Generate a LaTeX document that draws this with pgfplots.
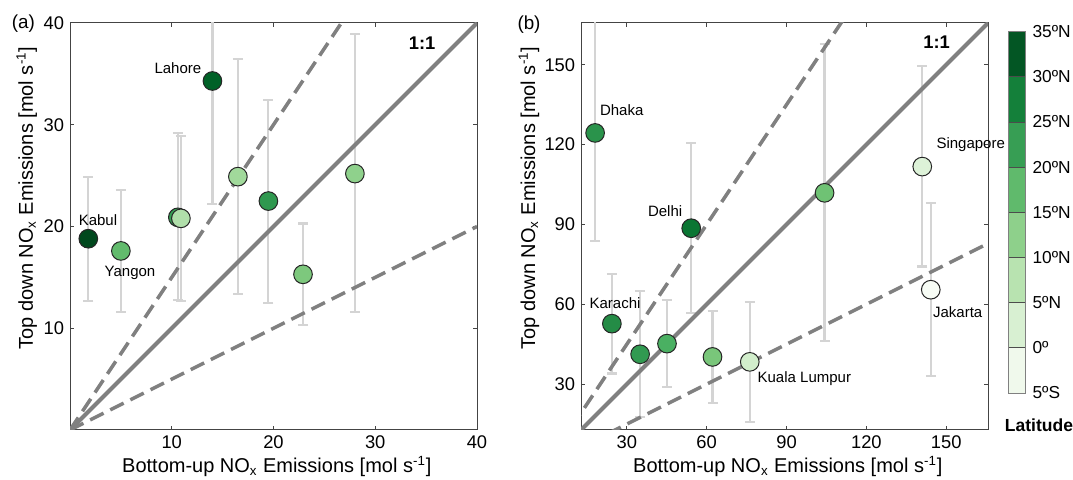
\documentclass[border=0pt]{standalone}
\usepackage{fontspec}
\setmainfont{Liberation Sans}
\usepackage{pgfplots}
\pgfplotsset{compat=1.18}
\usepackage{pgfplotstable}

\pgfplotstableread{
x y ep em lat
1.8 18.8 6.1 6.1 34.5
5.0 17.6 6.0 6.0 16.8
10.6 20.9 8.3 8.1 22
10.9 20.8 8.1 8.1 8
14.0 34.3 12 12.1 31.5
16.5 24.9 11.6 11.5 10
19.5 22.5 9.9 10.0 23
22.9 15.3 5.0 5.0 14
28.0 25.2 13.7 13.6 12
}\dataA

\pgfplotstableread{
x y ep em lat
18.1 124.4 42 40.65 23.8
24.4 52.75 18.5 18.75 24.9
35.0 41.25 23.75 23.5 22.6
45.1 45.25 16.5 16.25 19.1
54.2 88.6 31.9 31.7 28.6
62.2 40.25 17.25 17.25 14.5
76.2 38.4 22.5 22.5 3.1
104.3 101.9 55.85 55.65 15.5
141.0 111.75 37.65 37.5 1.3
144.2 65.5 32.6 32.4 -6.2
}\dataB

\definecolor{axgray}{HTML}{444444}
\definecolor{linegray}{HTML}{808080}
\definecolor{errgray}{HTML}{D4D4D4}
\definecolor{b1}{RGB}{240,249,236}
\definecolor{b2}{RGB}{216,240,210}
\definecolor{b3}{RGB}{184,227,176}
\definecolor{b4}{RGB}{142,208,139}
\definecolor{b5}{RGB}{96,186,108}
\definecolor{b6}{RGB}{55,158,84}
\definecolor{b7}{RGB}{20,128,58}
\definecolor{b8}{RGB}{3,86,36}

\tikzset{city/.style={font=\fontsize{9}{11}\selectfont}}

\pgfplotsset{
  colormap={greens}{rgb255=(247,252,245) rgb255=(229,245,224) rgb255=(199,233,192) rgb255=(161,217,155) rgb255=(116,196,118) rgb255=(65,171,93) rgb255=(35,139,69) rgb255=(0,109,44) rgb255=(0,68,27)},
  mainax/.style={
    scale only axis, width=244.2pt, height=244.2pt, anchor=south west,
    axis line style={axgray, line width=0.6pt},
    major tick style={axgray, line width=0.6pt},
    major tick length=2.4pt,
    tick align=inside,
    /pgf/number format/assume math mode=true,
    ticklabel style={font=\fontsize{11}{13}\selectfont},
    label style={font=\fontsize{12}{14}\selectfont},
    xlabel style={at={(axis description cs:0.508,-0.09)}, anchor=center},
    ylabel style={anchor=center},
    xlabel={Bottom-up NO\textsubscript{x} Emissions [mol s\textsuperscript{-1}]},
    ylabel={Top down NO\textsubscript{x} Emissions [mol s\textsuperscript{-1}]},
    point meta min=-5, point meta max=35,
    colormap name=greens,
    clip=true, clip mode=individual,
  },
  errb/.style={draw=none, mark=none, forget plot,
    error bars/.cd, y dir=both, y explicit,
    error bar style={errgray, line width=1.3pt},
    error mark options={errgray, line width=1.3pt, rotate=90, mark size=3pt}},
  pts/.style={scatter, only marks, mark=*, mark size=5.6pt, point meta=explicit,
    scatter/use mapped color={draw=black!85, fill=mapped color},
    mark options={line width=0.6pt}},
  solidl/.style={linegray, line width=2.4pt, mark=none},
  dashl/.style={linegray, line width=2.1pt, mark=none, dash pattern=on 9pt off 4.5pt},
}

\begin{document}
\begin{tikzpicture}
% panel a
\begin{axis}[mainax, at={(42pt,30pt)},
  xmin=0, xmax=40, ymin=0, ymax=40,
  xtick={10,20,30,40}, ytick={10,20,30,40},
  ylabel style={at={(axis description cs:-0.106,0.57)}},
]
\addplot[errb] table[x=x, y=y, y error plus=ep, y error minus=em] {\dataA};
\addplot[dashl] coordinates {(0,0) (40,60)};
\addplot[dashl] coordinates {(0,0) (40,20)};
\addplot[solidl] coordinates {(0,0) (40,40)};
\addplot[pts] table[x=x, y=y, meta=lat] {\dataA};
\node[city] at (axis cs:10.6,35.6) {Lahore};
\node[city] at (axis cs:2.75,20.6) {Kabul};
\node[city] at (axis cs:5.9,15.4) {Yangon};
\node[font=\bfseries\fontsize{11}{13}\selectfont] at (axis cs:34.6,38.0) {1:1};
\end{axis}
% panel b
\begin{axis}[mainax, at={(348.6pt,30pt)},
  xmin=12.8, xmax=165.7, ymin=12.8, ymax=165.7,
  xtick={30,60,...,150}, ytick={30,60,...,150},
  ylabel style={at={(axis description cs:-0.128,0.57)}},
]
\addplot[errb] table[x=x, y=y, y error plus=ep, y error minus=em] {\dataB};
\addplot[dashl] coordinates {(0,0) (170,255)};
\addplot[dashl] coordinates {(0,0) (170,85)};
\addplot[solidl] coordinates {(0,0) (170,170)};
\addplot[pts] table[x=x, y=y, meta=lat] {\dataB};
\node[city] at (axis cs:28.1,132.8) {Dhaka};
\node[city] at (axis cs:44.4,95.2) {Delhi};
\node[city] at (axis cs:25.6,60.5) {Karachi};
\node[city] at (axis cs:96.7,32.0) {Kuala Lumpur};
\node[city] at (axis cs:159.2,120) {Singapore};
\node[city] at (axis cs:154.3,57.2) {Jakarta};
\node[font=\bfseries\fontsize{11}{13}\selectfont] at (axis cs:146.4,158.3) {1:1};
\end{axis}
% colorbar
\begin{axis}[at={(605pt,52.2pt)}, anchor=south west, scale only axis,
  width=10pt, height=216.8pt, xmin=0, xmax=1, ymin=-5, ymax=35,
  xtick=\empty, ytick={-5,0,...,35},
  yticklabels={5ºS,0º,5ºN,10ºN,15ºN,20ºN,25ºN,30ºN,35ºN},
  yticklabel pos=right, major tick length=0pt,
  axis on top, axis line style={gray, line width=0.5pt},
  ticklabel style={font=\fontsize{10.4}{12}\selectfont},
  yticklabel style={xshift=1pt},
  clip=false,
]
\addplot[fill=b1, draw=none] coordinates {(0,-5) (1,-5) (1,0) (0,0)} -- cycle;
\addplot[fill=b2, draw=none] coordinates {(0,0) (1,0) (1,5) (0,5)} -- cycle;
\addplot[fill=b3, draw=none] coordinates {(0,5) (1,5) (1,10) (0,10)} -- cycle;
\addplot[fill=b4, draw=none] coordinates {(0,10) (1,10) (1,15) (0,15)} -- cycle;
\addplot[fill=b5, draw=none] coordinates {(0,15) (1,15) (1,20) (0,20)} -- cycle;
\addplot[fill=b6, draw=none] coordinates {(0,20) (1,20) (1,25) (0,25)} -- cycle;
\addplot[fill=b7, draw=none] coordinates {(0,25) (1,25) (1,30) (0,30)} -- cycle;
\addplot[fill=b8, draw=none] coordinates {(0,30) (1,30) (1,35) (0,35)} -- cycle;
\pgfplotsinvokeforeach{0,5,...,30}{
  \draw[black!70, line width=0.4pt] (axis cs:0,#1) -- (axis cs:1,#1);
}
\end{axis}
\node[font=\bfseries\fontsize{10.5}{12}\selectfont] at (623.4pt,33pt) {Latitude};
\node[font=\fontsize{11.3}{13}\selectfont] at (14pt,274pt) {(a)};
\node[font=\fontsize{11.3}{13}\selectfont] at (317.4pt,273pt) {(b)};
\pgfresetboundingbox
\useasboundingbox (0,0) rectangle (643.8pt,288pt);
\end{tikzpicture}
\end{document}
